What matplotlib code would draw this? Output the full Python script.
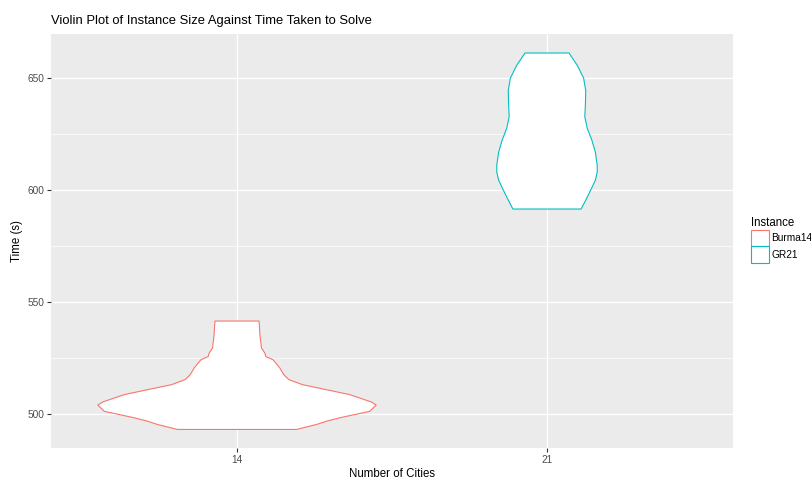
import matplotlib
matplotlib.use("Agg")
import matplotlib.pyplot as plt
from matplotlib.patches import Patch
import numpy as np

plt.rcParams['font.family'] = ['Liberation Sans', 'DejaVu Sans']

# Data
categories = ["14", "21"]
instances = ["Burma14", "GR21"]
colors = ["#F8766D", "#00BFC4"]

# Violin outlines: time (s) and half-width (in category units)
burma_time = [541.4, 540.0, 535.0, 529.3, 527.0, 525.5, 524.1, 521.8, 520.4, 517.4, 515.2,
              512.9, 510.7, 508.5, 505.2, 503.8, 501.0, 498.1, 496.6, 495.1, 492.9]
burma_half = [0.071, 0.072, 0.074, 0.079, 0.090, 0.093, 0.116, 0.130, 0.138, 0.151, 0.167,
              0.212, 0.288, 0.363, 0.433, 0.449, 0.428, 0.331, 0.289, 0.256, 0.192]
gr21_time = [661.3, 655.7, 650.1, 644.5, 638.7, 632.7, 627.6, 622.2, 616.9, 611.1,
             608.0, 604.4, 600.0, 595.5, 591.5]
gr21_half = [0.071, 0.098, 0.118, 0.125, 0.124, 0.122, 0.130, 0.145, 0.156, 0.162,
             0.162, 0.156, 0.141, 0.125, 0.110]

times = [burma_time, gr21_time]
halves = [burma_half, gr21_half]

y_ticks = [500, 550, 600, 650]
y_minor = [525, 575, 625]

W, H = 812, 479
fig = plt.figure(figsize=(W / 100, H / 100), dpi=100)
fig.patch.set_facecolor("white")
L, R, T, B = 51, 733, 34, 448
ax = fig.add_axes([L / W, 1 - B / H, (R - L) / W, (B - T) / H])
ax.set_facecolor("#EBEBEB")

for i, (t, h, c) in enumerate(zip(times, halves, colors)):
    t = np.asarray(t); h = np.asarray(h)
    xs = np.concatenate([i - h, (i + h)[::-1]])
    ys = np.concatenate([t, t[::-1]])
    ax.fill(xs, ys, facecolor="white", edgecolor=c, linewidth=0.8, zorder=3,
            joinstyle="round")

ax.set_xlim(-0.6, 1.6)
ax.set_ylim(484.6, 669.8)
ax.set_xticks([0, 1])
ax.set_xticklabels(categories)
ax.set_yticks(y_ticks)
ax.set_yticks(y_minor, minor=True)
ax.grid(True, which="major", color="white", linewidth=1.0, zorder=0)
ax.grid(True, which="minor", axis="y", color="white", linewidth=0.5, zorder=0)
ax.set_axisbelow(True)
for s in ax.spines.values():
    s.set_visible(False)
ax.tick_params(axis="both", which="major", length=3, width=0.8, color="#333333",
               labelcolor="#4D4D4D", labelsize=7.3, pad=2)
ax.tick_params(axis="both", which="minor", length=0)

ax.set_xlabel("Number of Cities", fontsize=8.3, color="black", labelpad=2)
ax.set_ylabel("Time (s)", fontsize=8.3, color="black", labelpad=3)
ax.set_title("Violin Plot of Instance Size Against Time Taken to Solve", fontsize=9.4,
             loc="left", color="black", pad=7)

handles = [Patch(facecolor="white", edgecolor=c, linewidth=0.8) for c in colors]
leg = fig.legend(handles, instances, title="Instance", loc="upper left",
                 bbox_to_anchor=(751 / W, 1 - 217 / H), frameon=False,
                 fontsize=7.3, title_fontsize=8.3, handlelength=1.75, handleheight=2.1,
                 handletextpad=0.25, labelspacing=0.05, borderpad=0, borderaxespad=0)
leg._legend_box.align = "left"

fig.savefig("out.png", dpi=100)
